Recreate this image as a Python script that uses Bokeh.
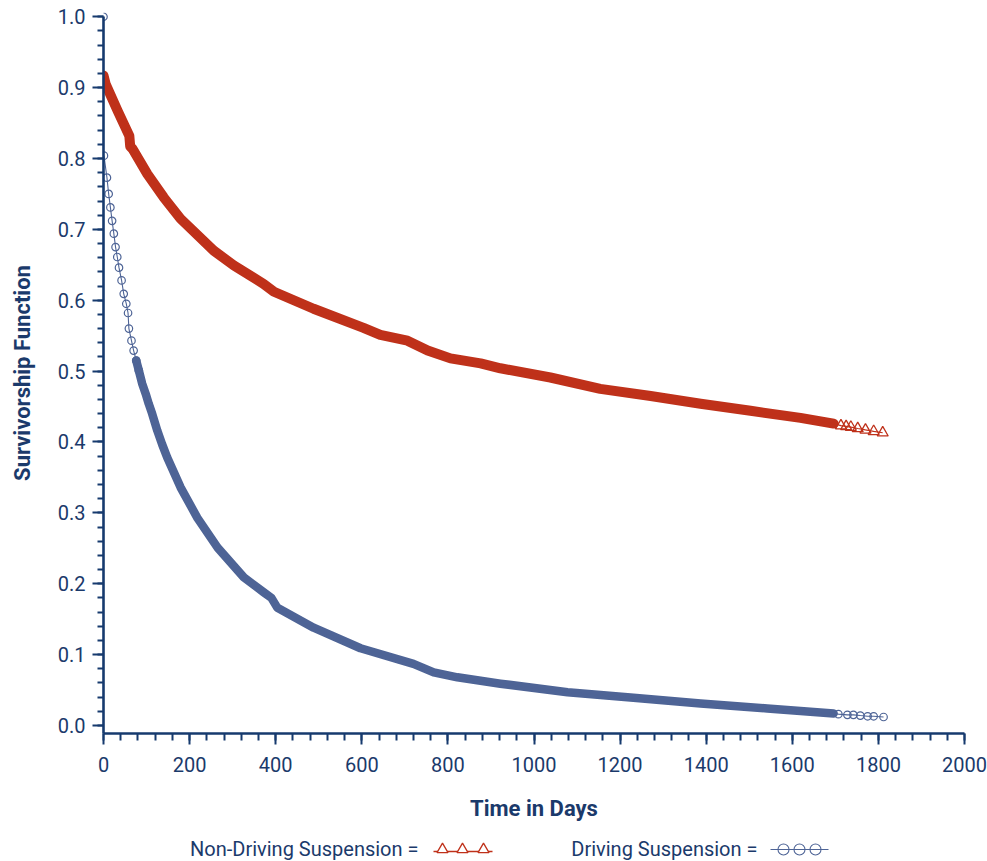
import numpy as np
from bokeh.plotting import figure
from bokeh.layouts import column
from bokeh.models import Range1d, SingleIntervalTicker, PrintfTickFormatter
from bokeh.core.properties import value
from bokeh.embed import file_html
from bokeh.resources import INLINE

# ---------------- data ----------------
red_days = [0, 5, 33, 60, 62, 67, 102, 140, 179, 256, 303, 372, 396, 488, 604, 643,
            706, 753, 806, 876, 922, 1038, 1154, 1271, 1387, 1503, 1619, 1696,
            1713, 1725, 1736, 1752, 1770, 1789, 1810]
red_surv = [0.917, 0.905, 0.867, 0.832, 0.817, 0.814, 0.778, 0.745, 0.715, 0.670,
            0.649, 0.623, 0.612, 0.588, 0.561, 0.551, 0.543, 0.529, 0.518, 0.511,
            0.504, 0.491, 0.475, 0.465, 0.454, 0.444, 0.434, 0.426,
            0.423, 0.422, 0.421, 0.419, 0.417, 0.415, 0.413]

blue_days = [0, 1, 8, 12, 16, 20, 24, 28, 32, 36, 42, 47, 53, 57, 59, 65, 70, 76, 82,
             90, 98, 105, 113, 125, 136, 148, 179, 218, 265, 326, 372, 390, 404, 488,
             597, 720, 767, 822, 922, 1078, 1231, 1387, 1542, 1696,
             1707, 1728, 1742, 1758, 1775, 1789, 1812]
blue_surv = [1.0, 0.804, 0.773, 0.750, 0.731, 0.712, 0.694, 0.675, 0.661, 0.646, 0.628,
             0.609, 0.595, 0.582, 0.560, 0.543, 0.529, 0.515, 0.501, 0.482, 0.468,
             0.454, 0.440, 0.416, 0.397, 0.378, 0.336, 0.293, 0.251, 0.209, 0.188,
             0.180, 0.166, 0.138, 0.109, 0.087, 0.075, 0.068, 0.059, 0.047, 0.039,
             0.031, 0.024, 0.017,
             0.016, 0.015, 0.015, 0.014, 0.013, 0.013, 0.012]

x_title = "Time in Days"
y_title = "Survivorship Function"
legend_labels = ["Non-Driving Suspension =", "Driving Suspension ="]

# ---------------- styles ----------------
FONT = "Roboto"
NAVY = "#163a6e"
TEXT = "#1b3a6b"
RED = "#bf311a"
BLUE = "#4e6496"

Y_MIN = -0.0113
FRAME_LEFT, FRAME_RIGHT = 103, 964

p = figure(width=987, height=830,
           x_range=Range1d(0, 2000), y_range=Range1d(Y_MIN, 1.006),
           output_backend="svg", toolbar_location=None,
           min_border_left=FRAME_LEFT, min_border_right=987 - FRAME_RIGHT,
           min_border_top=12, min_border_bottom=97)
p.outline_line_color = None
p.grid.visible = False
p.background_fill_color = "white"

p.xaxis.ticker = SingleIntervalTicker(interval=200, num_minor_ticks=5)
p.yaxis.ticker = SingleIntervalTicker(interval=0.1, num_minor_ticks=5)
p.yaxis.formatter = PrintfTickFormatter(format="%.1f")
p.yaxis.bounds = (Y_MIN, 1.0)

for ax in (p.xaxis, p.yaxis):
    ax.axis_line_color = NAVY
    ax.axis_line_width = 2.6
    ax.major_tick_line_color = NAVY
    ax.minor_tick_line_color = NAVY
    ax.major_tick_line_width = 2
    ax.minor_tick_line_width = 2
    ax.major_tick_in = 0
    ax.minor_tick_in = 0
    ax.major_tick_out = 11
    ax.major_label_text_font = FONT
    ax.major_label_text_font_size = "20px"
    ax.major_label_text_color = TEXT
    ax.axis_label_text_font = FONT
    ax.axis_label_text_font_style = "bold"
    ax.axis_label_text_color = TEXT
    ax.axis_label_text_font_size = "22px"

p.xaxis.minor_tick_out = 7
p.yaxis.minor_tick_out = 6
p.xaxis.major_label_standoff = 12
p.yaxis.major_label_standoff = 7
p.xaxis.axis_label = x_title
p.yaxis.axis_label = y_title
p.xaxis.axis_label_standoff = 21
p.yaxis.axis_label_standoff = 20

rd = np.array(red_days, dtype=float)
rs = np.array(red_surv, dtype=float)
bd = np.array(blue_days, dtype=float)
bs = np.array(blue_surv, dtype=float)

# red: dense band, thin connector, sparse tail markers
red_dense = rd <= 1700
p.line(rd[red_dense], rs[red_dense], line_color=RED, line_width=10,
       line_join="round", line_cap="round")
p.line(rd, rs, line_color=RED, line_width=1.2)
p.scatter(rd[~red_dense], rs[~red_dense], marker="triangle", size=11,
          line_color=RED, line_width=1.3, fill_alpha=0)

# blue: sparse early circles, dense band, sparse tail
b_band = (bd >= 76) & (bd <= 1700)
b_marks = (bd < 90) | (bd > 1700)
p.line(bd[b_band], bs[b_band], line_color=BLUE, line_width=8.5,
       line_join="round", line_cap="round")
p.line(bd[1:], bs[1:], line_color=BLUE, line_width=1.1)
p.scatter(bd[b_marks], bs[b_marks], marker="circle", size=7.5,
          line_color=BLUE, line_width=1.2, fill_alpha=0)

# ---------------- legend strip (page-pixel coordinates; frame aligned to main frame) ----
leg = figure(width=987, height=31, x_range=Range1d(FRAME_LEFT, FRAME_RIGHT),
             y_range=Range1d(861, 830),
             x_axis_location=None, y_axis_location=None,
             output_backend="svg", toolbar_location=None,
             min_border=0, min_border_left=0, min_border_right=0,
             min_border_top=0, min_border_bottom=0)
leg.grid.visible = False
leg.outline_line_color = None

leg.text(x=[418, 757], y=[848, 848], text=legend_labels, text_align="right",
         text_baseline="middle", text_font=value(FONT), text_font_size="20px",
         text_color=TEXT)
leg.line([433, 492], [851, 851], line_color=RED, line_width=1.3)
leg.scatter([442, 462, 483], [849, 849, 849], marker="triangle", size=11,
            line_color=RED, line_width=1.3, fill_color="white")
leg.line([770, 828], [849, 849], line_color=BLUE, line_width=1.1)
leg.scatter([783, 799, 815], [849, 849, 849], marker="circle", size=11,
            line_color=BLUE, line_width=1.1, fill_alpha=0)

layout = column(p, leg, spacing=0)
open("out.html", "w").write(file_html(layout, INLINE))
